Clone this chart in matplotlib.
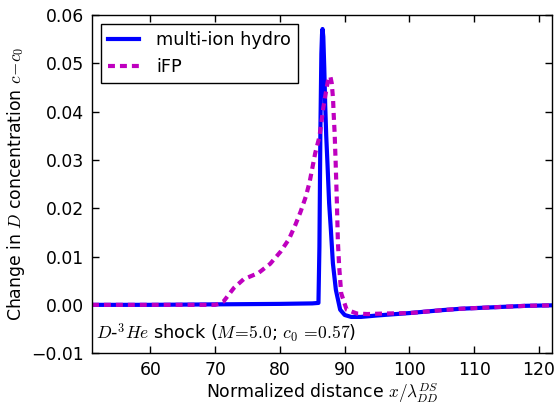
import matplotlib
matplotlib.use("Agg")
import matplotlib.pyplot as plt

plt.rcParams['mathtext.fontset'] = 'cm'
plt.rcParams['font.family'] = ['DejaVu Sans']
plt.rcParams['lines.scale_dashes'] = False

# multi-ion hydro
hydro_x = [51, 60, 70, 80, 85, 85.95, 86.1, 86.25, 86.4, 86.5, 86.58, 86.7, 86.85, 87.0, 87.15,
           87.35, 87.6, 87.87, 88.18, 88.64, 89.3, 90.0, 91.0, 92.5, 95, 100, 105, 108, 113, 118, 122]
hydro_y = [0.0, 0.0, 0.0001, 0.0002, 0.0003, 0.0004, 0.012, 0.036, 0.052, 0.056, 0.0571, 0.0555,
           0.049, 0.041, 0.035, 0.029, 0.021, 0.0155, 0.0086, 0.0031, -0.001, -0.0021, -0.0025,
           -0.0025, -0.0022, -0.0017, -0.0011, -0.0008, -0.0005, -0.0002, -0.0001]

# iFP
ifp_x = [51, 60, 70, 70.5, 71.3, 72.9, 74.4, 76.7, 78.5, 80.1, 81.4, 82.4, 83.2, 84.0, 84.6, 85.45,
         86.1, 86.4, 86.7, 87.1, 87.5, 87.8, 88.0, 88.2, 88.3, 88.45, 88.6, 88.8, 88.95, 89.15,
         89.46, 90.3, 91.9, 93.5, 96, 100, 105, 108, 113, 118, 122]
ifp_y = [0.0, 0.0, 0.0, 0.0002, 0.0007, 0.0035, 0.0053, 0.0066, 0.0085, 0.011, 0.0136, 0.0166,
         0.0193, 0.0224, 0.0255, 0.0314, 0.0348, 0.0377, 0.0408, 0.044, 0.0471, 0.0472, 0.0459,
         0.0427, 0.0395, 0.0355, 0.0297, 0.0210, 0.0131, 0.0079, 0.0024, -0.001, -0.0018,
         -0.0019, -0.0018, -0.0017, -0.0011, -0.0008, -0.0005, -0.0002, -0.0001]

xticks = [60, 70, 80, 90, 100, 110, 120]
yticks = [-0.01, 0.0, 0.01, 0.02, 0.03, 0.04, 0.05, 0.06]
ytick_labels = ['\u22120.01', '0.00', '0.01', '0.02', '0.03', '0.04', '0.05', '0.06']

FS = 12.4

fig = plt.figure(figsize=(5.55, 4.05), dpi=100)
ax = fig.add_axes([0.1658, 0.128, 0.8288, 0.835])

ax.plot(hydro_x, hydro_y, color='#0000ff', lw=3, label='multi-ion hydro', solid_joinstyle='round')
ax.plot(ifp_x, ifp_y, color='#bf00bf', lw=3, dashes=(5, 3.6), label='iFP')

ax.set_xlim(51, 122)
ax.set_ylim(-0.01, 0.06)
ax.set_xticks(xticks)
ax.set_yticks(yticks)
ax.set_yticklabels(ytick_labels)
ax.tick_params(direction='in', top=True, right=True, length=5, width=1, labelsize=FS, pad=6)
for s in ax.spines.values():
    s.set_linewidth(1)

ax.set_xlabel(r'Normalized distance $x/\lambda_{DD}^{DS}$', fontsize=FS, labelpad=1)
ax.set_ylabel(r'Change in $D$ concentration $c\!-\!c_0$', fontsize=FS, labelpad=3)

ax.text(0.008, 0.025, r'$D$-$^3He$ shock ($M\!=\!5.0$; $c_0\,=\!0.57$)', transform=ax.transAxes,
        fontsize=12.7, ha='left', va='bottom')

leg = ax.legend(loc='upper left', fontsize=12.7, fancybox=False, framealpha=1, edgecolor='black',
                handlelength=1.75, handletextpad=1.0, borderaxespad=0.5)
leg.get_frame().set_linewidth(1)

fig.savefig('out.png', dpi=100)
